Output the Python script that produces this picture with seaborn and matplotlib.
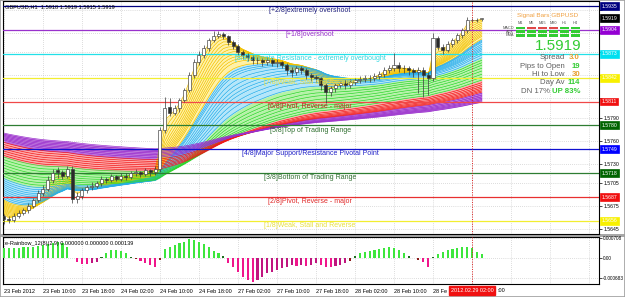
import numpy as np
import pandas as pd
import matplotlib
matplotlib.use("Agg")
import matplotlib.pyplot as plt
import matplotlib.transforms as mtransforms
from matplotlib.patches import Rectangle
import seaborn as sns

sns.set_theme(style="white")
plt.rcParams['font.family'] = ['Liberation Sans', 'DejaVu Sans']

# ---------------- data ----------------
chart_title = "GBPUSD,H1  1.5918 1.5919 1.5915 1.5919"

opens = [1.5662,1.5659,1.5657,1.5663,1.5667,1.5670,1.5676,1.5683,1.5692,1.5698,
         1.5709,1.5722,1.5719,1.5715,1.5724,1.5685,1.5689,1.5696,1.5700,1.5702,
         1.5705,1.5711,1.5709,1.5714,1.5711,1.5715,1.5713,1.5718,1.5719,1.5717,
         1.5722,1.5719,1.5724,1.5774,1.5804,1.5796,1.5802,1.5813,1.5826,1.5845,
         1.5862,1.5871,1.5880,1.5891,1.5896,1.5899,1.5896,1.5888,1.5883,1.5875,
         1.5871,1.5869,1.5865,1.5865,1.5862,1.5865,1.5861,1.5862,1.5858,1.5852,
         1.5849,1.5854,1.5852,1.5845,1.5843,1.5841,1.5832,1.5823,1.5828,1.5832,
         1.5835,1.5832,1.5836,1.5839,1.5840,1.5841,1.5841,1.5844,1.5847,1.5852,
         1.5854,1.5858,1.5854,1.5854,1.5852,1.5849,1.5852,1.5845,1.5841,1.5893,
         1.5882,1.5878,1.5886,1.5891,1.5897,1.5904,1.5917,1.5917,1.5918]
highs = [1.5665,1.5662,1.5666,1.5670,1.5673,1.5679,1.5686,1.5696,1.5703,1.5714,
         1.5723,1.5726,1.5722,1.5728,1.5727,1.5693,1.5699,1.5703,1.5706,1.5708,
         1.5714,1.5713,1.5717,1.5716,1.5718,1.5718,1.5721,1.5723,1.5721,1.5725,
         1.5724,1.5727,1.5778,1.5817,1.5816,1.5806,1.5816,1.5829,1.5849,1.5866,
         1.5877,1.5884,1.5894,1.5903,1.5902,1.5901,1.5898,1.5891,1.5886,1.5878,
         1.5874,1.5872,1.5869,1.5868,1.5869,1.5868,1.5866,1.5864,1.5861,1.5856,
         1.5857,1.5857,1.5854,1.5848,1.5846,1.5843,1.5835,1.5831,1.5835,1.5838,
         1.5839,1.5840,1.5842,1.5844,1.5845,1.5846,1.5848,1.5851,1.5856,1.5858,
         1.5874,1.5862,1.5858,1.5857,1.5855,1.5856,1.5856,1.5849,1.5900,1.5896,
         1.5886,1.5889,1.5894,1.5900,1.5907,1.5921,1.5920,1.5920,1.5919]
lows = [1.5652,1.5653,1.5655,1.5660,1.5664,1.5667,1.5673,1.5680,1.5688,1.5695,
        1.5705,1.5712,1.5710,1.5712,1.5679,1.5679,1.5684,1.5692,1.5696,1.5699,
        1.5702,1.5705,1.5706,1.5708,1.5708,1.5709,1.5710,1.5714,1.5713,1.5714,
        1.5715,1.5716,1.5720,1.5770,1.5792,1.5793,1.5798,1.5810,1.5823,1.5842,
        1.5858,1.5868,1.5877,1.5888,1.5893,1.5892,1.5885,1.5879,1.5871,1.5866,
        1.5864,1.5860,1.5860,1.5857,1.5859,1.5857,1.5856,1.5854,1.5846,1.5843,
        1.5846,1.5847,1.5840,1.5838,1.5836,1.5826,1.5809,1.5818,1.5824,1.5828,
        1.5827,1.5828,1.5832,1.5835,1.5836,1.5837,1.5838,1.5840,1.5843,1.5848,
        1.5851,1.5849,1.5848,1.5846,1.5843,1.5822,1.5817,1.5820,1.5838,1.5878,
        1.5873,1.5875,1.5882,1.5887,1.5894,1.5900,1.5914,1.5914,1.5915]
closes = [1.5659,1.5657,1.5663,1.5667,1.5670,1.5676,1.5683,1.5692,1.5698,1.5709,
          1.5718,1.5719,1.5715,1.5724,1.5685,1.5689,1.5696,1.5700,1.5702,1.5705,
          1.5711,1.5709,1.5714,1.5711,1.5715,1.5713,1.5718,1.5719,1.5717,1.5722,
          1.5719,1.5724,1.5774,1.5802,1.5796,1.5802,1.5813,1.5826,1.5845,1.5862,
          1.5871,1.5880,1.5891,1.5896,1.5899,1.5896,1.5888,1.5883,1.5875,1.5871,
          1.5869,1.5865,1.5865,1.5862,1.5865,1.5861,1.5862,1.5858,1.5852,1.5849,
          1.5854,1.5852,1.5845,1.5843,1.5841,1.5832,1.5823,1.5828,1.5832,1.5835,
          1.5832,1.5836,1.5839,1.5840,1.5841,1.5841,1.5844,1.5847,1.5852,1.5854,
          1.5858,1.5854,1.5854,1.5852,1.5849,1.5852,1.5845,1.5841,1.5893,1.5882,
          1.5878,1.5886,1.5891,1.5897,1.5904,1.5917,1.5917,1.5917,1.5919]

time_labels = ["23 Feb 2012", "23 Feb 10:00", "23 Feb 18:00", "24 Feb 02:00",
               "24 Feb 10:00", "24 Feb 18:00", "27 Feb 02:00", "27 Feb 10:00",
               "27 Feb 18:00", "28 Feb 02:00", "28 Feb 10:00", "28 Fe"]
bars_per_label = 8
selected_bar_label = "2012.02.29 02:00"
selected_bar_tail = ":00"
selected_bar = 96

murrey_levels = [1.5935, 1.5904, 1.5873, 1.5842, 1.5811, 1.5780, 1.5749, 1.5718, 1.5687, 1.5656]
murrey_names = ["[+2/8]extremely overshoot", "[+1/8]overshoot",
                "[8/8]Ultimate Resistance - extremely overbought",
                "[7/8]Weak, Stall and Reverse", "[6/8]Pivot, Reverse - major",
                "[5/8]Top of Trading Range", "[4/8]Major Support/Resistance Pivotal Point",
                "[3/8]Bottom of Trading Range", "[2/8]Pivot, Reverse - major",
                "[1/8]Weak, Stall and Reverse"]
murrey_colors = ["#000080", "#9932CC", "#22E0E8", "#F2EE30", "#F04848",
                 "#2E7D32", "#1010D0", "#2E7D32", "#E83030", "#F2EE30"]
murrey_text_colors = ["#202080", "#9932CC", "#30D8E0", "#E8E040", "#C02020",
                      "#2E6E2E", "#2020C8", "#2E6E2E", "#E02828", "#E8E040"]
murrey_box_colors = ["#000080", "#9400D3", "#00E0F0", "#F8F000", "#F01010",
                     "#006400", "#0000FF", "#006400", "#F01010", "#F8F000"]
current_price = 1.5919
price_ticks = [1.5645, 1.5675, 1.5705, 1.5730, 1.5760, 1.5790, 1.5815, 1.5845, 1.5875, 1.5900, 1.5930]
price_tick_shown = [1.5645, 1.5675, 1.5705, 1.5730, 1.5760, 1.5790]

# rainbow moving-average fan: periods and starting values (left edge) per colour group
rb_yellow_periods = [2, 3, 4, 5, 6, 7, 8, 9, 10, 11, 12, 13, 15]
rb_blue_periods = [16, 17, 18, 20, 22, 24, 26, 28, 31, 34, 38]
rb_green_periods = [42, 46, 50, 55, 60, 66, 72, 78]
rb_red_periods = [84, 89, 94, 99, 104, 109, 114]
rb_purple_periods = [120, 128, 136, 144, 152, 160, 170]
rb_yellow_start = (1.5665, 1.5683)
rb_blue_start = (1.5685, 1.5711)
rb_green_start = (1.5714, 1.5739)
rb_red_start = (1.5741, 1.5758)
rb_purple_start = (1.5761, 1.5770)

hist_title = "e-Rainbow_12(8)(2.9) 0.000000 0.000000 0.000139"
hist_values = [0.000350,0.000350,0.000361,0.000375,0.000385,0.000385,0.000410,0.000431,0.000466,0.000501,
               0.000550,0.000571,0.000525,0.000410,0.000018,-0.000116,-0.000200,-0.000200,-0.000175,-0.000116,
               0.000035,0.000200,0.000291,0.000291,0.000256,0.000175,0.000053,-0.000035,-0.000095,-0.000175,
               -0.000235,-0.000315,-0.000060,0.000315,0.000410,0.000466,0.000525,0.000560,0.000665,0.000641,
               0.000585,0.000501,0.000385,0.000270,0.000200,0.000081,-0.000151,-0.000291,-0.000466,-0.000641,
               -0.000760,-0.000816,-0.000760,-0.000641,-0.000525,-0.000466,-0.000410,-0.000350,-0.000291,-0.000235,
               -0.000256,-0.000235,-0.000270,-0.000245,-0.000175,-0.000235,-0.000291,-0.000315,-0.000270,-0.000235,
               -0.000175,-0.000081,0.000070,0.000175,0.000235,0.000270,0.000291,0.000326,0.000375,0.000385,
               0.000350,0.000291,0.000175,0.000081,0.000025,-0.000070,-0.000140,-0.000291,0.000046,0.000151,
               0.000235,0.000291,0.000326,0.000350,0.000385,0.000385,0.000350,0.000210,0.000151]
hist_ticks = [0.000708, 0.0, -0.000683]
hist_tick_labels = ["0.000708", "0.00", "-0.000683"]

signal_title = "Signal Bars GBPUSD"
signal_frames = ["M1", "M5", "M15", "M30", "H1", "H4"]
signal_rows = ["MACD", "ADX", "EMA"]
signal_states = [[1, 0, 0, 0, 1, 1],
                 [1, 1, 1, 1, 1, 1],
                 [1, 1, 1, 1, 1, 1]]
big_price = "1.5919"
stat_names = ["Spread", "Pips to Open", "Hi to Low", "Day Av"]
stat_values = ["3.0", "19", "30", "114"]
stat_value_colors = ["#E8A030", "#33CC33", "#E8A030", "#33CC33"]
dn_text, up_text = "DN 17%", "UP 83%"

# ---------------- figure ----------------
W, H = 625, 297
def fx(x): return x / W
def fy(y): return 1 - y / H

fig = plt.figure(figsize=(W / 100, H / 100), dpi=100)
fig.patch.set_facecolor("white")
ax = fig.add_axes([fx(3), fy(234), (599 - 3) / W, (234 - 1) / H])
ax2 = fig.add_axes([fx(3), fy(284), (599 - 3) / W, (284 - 237) / H])
fig.add_artist(Rectangle((fx(0), fy(237)), 1, 3 / H, transform=fig.transFigure,
                         facecolor="#A8A8A8", edgecolor="none", zorder=0))

n = len(closes)
idx = np.arange(n)
c = np.array(closes)
xlim = (-0.2, 122.05)

# rainbow
groups = [
    (rb_yellow_periods, rb_yellow_start, "#F2C200", "#FFF1A6"),
    (rb_blue_periods, rb_blue_start, "#28AEEA", "#B4E6FA"),
    (rb_green_periods, rb_green_start, "#2ED62E", "#B6F2A8"),
    (rb_red_periods, rb_red_start, "#F01818", "#FFA8A8"),
    (rb_purple_periods, rb_purple_start, "#9A30CC", "#B868DC"),
]
lines = []
for periods, (s0, s1), lcol, fcol in groups:
    seeds = np.linspace(s0, s1, len(periods))
    for p, s in zip(periods, seeds):
        a = 2.0 / (p + 1)
        e = np.empty(n)
        e[0] = s
        for t in range(1, n):
            e[t] = e[t - 1] + a * (c[t] - e[t - 1])
        lines.append((p, e, lcol, fcol))
for i in range(len(lines) - 1):
    ax.fill_between(idx, lines[i][1], lines[i + 1][1], color=lines[i + 1][3], lw=0, zorder=1)
rows = []
for k, (p, e, lcol, fcol) in enumerate(lines):
    rows.append(pd.DataFrame({"bar": idx, "value": e, "line": k}))
df = pd.concat(rows, ignore_index=True)
sns.lineplot(data=df, x="bar", y="value", hue="line", palette=[l[2] for l in lines],
             legend=False, lw=0.5, ax=ax, estimator=None, sort=False, zorder=2)

# murrey lines
for lvl, col in zip(murrey_levels, murrey_colors):
    ax.axhline(lvl, color=col, lw=0.9, zorder=3)

# candles
o = np.array(opens); hi = np.array(highs); lo = np.array(lows)
ax.vlines(idx, lo, hi, color="#3A3A3A", lw=0.5, zorder=4)
body_bottom = np.minimum(o, c)
body_h = np.maximum(np.abs(c - o), 0.00002)
face = ["white" if cc >= oo else "#2A2A2A" for oo, cc in zip(o, c)]
ax.bar(idx, body_h, bottom=body_bottom, width=0.62, color=face, edgecolor="#3A3A3A", lw=0.45, zorder=5)

# murrey labels
label_bar = 62.8
for lvl, name, tc in zip(murrey_levels, murrey_names, murrey_text_colors):
    ax.text(label_bar, lvl - 0.00060, name, color=tc, fontsize=5, ha="center", va="center", zorder=6)

# axes styling main
ax.set_xlim(*xlim)
ax.set_ylim(1.56391, 1.59415)
ax.set_xticks(np.arange(0, 121, bars_per_label))
ax.set_xticklabels([])
ax.tick_params(axis="x", length=0)
ax.yaxis.tick_right()
ax.set_yticks(price_ticks)
ax.set_yticklabels([f"{v:.4f}" if v in price_tick_shown else "" for v in price_ticks])
ax.tick_params(axis="y", length=2, width=0.5, pad=1.5, labelsize=3.7, colors="black")
ax.grid(True, ls=(0, (1, 2)), color="#BDBDBD", lw=0.5)
ax.set_axisbelow(True)
ax.set_xlabel(""); ax.set_ylabel("")
for s in ax.spines.values():
    s.set_color("black"); s.set_linewidth(0.8)
ax.axvline(selected_bar, color="#E02020", ls=(0, (1, 1.5)), lw=0.7, zorder=7)

# price boxes on the right axis
blend = mtransforms.blended_transform_factory(ax.transAxes, ax.transData)
box_prices = [murrey_levels[0], current_price] + murrey_levels[1:]
box_cols = [murrey_box_colors[0], "black"] + murrey_box_colors[1:]
for bp, bc in zip(box_prices, box_cols):
    ax.text(1.0045, bp, f"{bp:.4f}", transform=blend, ha="left", va="center", fontsize=3.7,
            color="white", clip_on=False, zorder=10,
            bbox=dict(boxstyle="square,pad=0.28", fc=bc, ec=bc, lw=0.5))

fig.text(fx(5), fy(7), chart_title, fontsize=4.1, color="black", ha="left", va="center")

# ---------------- indicator panel ----------------
hv = np.array(hist_values)
hcol = []
for i, v in enumerate(hv):
    prev = hv[i - 1] if i else v
    if abs(v) < 0.00009:
        hcol.append("#1E6E1E" if v > 0 else "#8B1A1A")
    elif v > 0:
        hcol.append("#3DE63D")
    else:
        hcol.append("#C0157F" if v > prev else "#F0168C")
ax2.bar(idx, hv, width=0.45, color=hcol, lw=0, zorder=3)
ax2.set_xlim(*xlim)
ax2.set_ylim(-0.0009, 0.000746)
ax2.yaxis.tick_right()
ax2.set_yticks(hist_ticks)
ax2.set_yticklabels(hist_tick_labels)
ax2.tick_params(axis="y", length=2, width=0.5, pad=1.0, labelsize=3.4, colors="black")
xt = np.arange(0, 121, bars_per_label)
ax2.set_xticks(xt)
ax2.set_xticklabels(time_labels + [""] * (len(xt) - len(time_labels)), ha="left")
ax2.tick_params(axis="x", length=2, width=0.5, pad=1.5, labelsize=4, colors="black")
ax2.grid(True, ls=(0, (1, 2)), color="#BDBDBD", lw=0.5)
ax2.set_axisbelow(True)
for s in ax2.spines.values():
    s.set_color("black"); s.set_linewidth(0.8)
ax2.axvline(selected_bar, color="#E02020", ls=(0, (1, 1.5)), lw=0.7, zorder=7)
ax2.text(0.004, 0.86, hist_title, transform=ax2.transAxes, fontsize=4, color="black", ha="left", va="center")

sel_x = fx(3) + (selected_bar - xlim[0]) / (xlim[1] - xlim[0]) * (596 / W)
fig.text(sel_x, fy(290.5), selected_bar_label, fontsize=4, color="white", ha="center", va="center",
         zorder=20, bbox=dict(boxstyle="square,pad=0.3", fc="#F01010", ec="#F01010"))
fig.text(fx(497), fy(290.5), selected_bar_tail, fontsize=4, color="black", ha="left", va="center")

# ---------------- signal bars panel ----------------
fig.text(fx(548), fy(15), signal_title, fontsize=4.6, color="#F0A040", ha="center", va="center")
col_left = [516, 527, 538, 549, 560, 571]
for j, tf in enumerate(signal_frames):
    fig.text(fx(col_left[j] + 4.5), fy(22.5), tf, fontsize=2.8, color="#505050", ha="center", va="center")
row_top = [26.8, 30.4, 34.0]
for r, rname in enumerate(signal_rows):
    fig.text(fx(514), fy(row_top[r] + 1.3), rname, fontsize=2.8, color="#505050", ha="right", va="center")
    for j in range(len(signal_frames)):
        col = "#33CC33" if signal_states[r][j] else "#E04848"
        fig.add_artist(Rectangle((fx(col_left[j]), fy(row_top[r] + 2.6)), 9 / W, 2.6 / H,
                                 transform=fig.transFigure, facecolor=col, edgecolor="none"))
fig.text(fx(581), fy(46), big_price, fontsize=11, color="#33CC33", ha="right", va="center")
stat_y = [57.5, 66, 74.5, 83]
for name, val, vc, yy in zip(stat_names, stat_values, stat_value_colors, stat_y):
    fig.text(fx(565), fy(yy), name, fontsize=5.6, color="#606060", ha="right", va="center")
    fig.text(fx(580), fy(yy), val, fontsize=5.6, color=vc, ha="right", va="center", fontweight="bold")
fig.text(fx(521), fy(92), dn_text, fontsize=5.6, color="#606060", ha="left", va="center")
fig.text(fx(580), fy(92), up_text, fontsize=5.6, color="#33CC33", ha="right", va="center", fontweight="bold")

fig.add_artist(Rectangle((0, 0), 1, 1, transform=fig.transFigure, fill=False,
                         edgecolor="#A0A0A0", lw=1.2))
fig.savefig("out.png", dpi=100)
